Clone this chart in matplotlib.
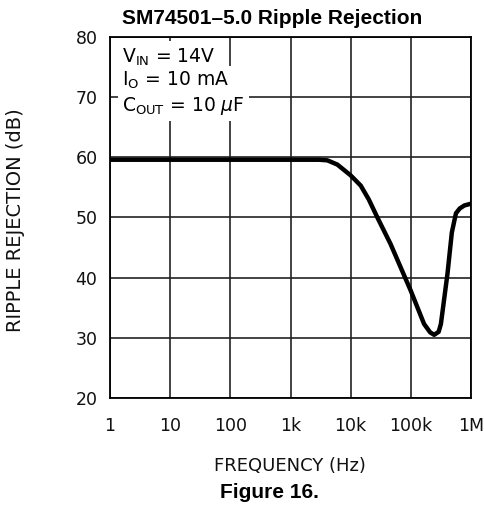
import matplotlib
matplotlib.use("Agg")
import matplotlib.pyplot as plt

freq_hz = [1, 10, 100, 1000, 3000, 4100, 6000, 10000, 14700, 20000, 27800, 46000,
           100000, 166000, 210000, 244000, 290000, 316000, 407000, 480000, 562000,
           650000, 776000, 1000000]
rejection_db = [59.6, 59.6, 59.6, 59.6, 59.6, 59.5, 58.8, 57.0, 55.3, 53.0, 50.0, 45.6,
                37.8, 32.3, 30.9, 30.5, 31.0, 32.3, 40.7, 47.5, 50.7, 51.5, 52.0, 52.3]
x_ticks = [1, 10, 100, 1000, 10000, 100000, 1000000]
x_labels = ["1", "10", "100", "1k", "10k", "100k", "1M"]
y_ticks = [20, 30, 40, 50, 60, 70, 80]

plt.rcParams['font.family'] = ['DejaVu Sans']
fig = plt.figure(figsize=(4.84, 5.13), dpi=100)
ax = fig.add_axes([110/484, 1 - 398/513, 361/484, 361/513])
ax.set_xscale('log')
ax.set_xlim(1, 1e6)
ax.set_ylim(20, 80)
ax.set_xticks(x_ticks)
ax.set_xticklabels(x_labels)
ax.minorticks_off()
ax.set_yticks(y_ticks)
ax.grid(True, color='#222222', linewidth=1.2)
ax.set_axisbelow(True)
for s in ax.spines.values():
    s.set_linewidth(1.3)
ax.tick_params(axis='both', labelsize=12.5, length=0, width=1.2, pad=9, labelcolor='#111111')
ax.tick_params(axis='x', pad=14)

ax.plot(freq_hz, rejection_db, color='black', linewidth=3.2, solid_capstyle='round', zorder=3)

fs = 13.5
ax.text(1.6, 76.6, r"$\mathregular{V_{IN}}$ = 14V", fontsize=fs, va='center', ha='left',
        bbox=dict(facecolor='white', edgecolor='none', pad=4), zorder=4)
ax.text(1.6, 72.8, r"$\mathregular{I_{O}}$ = 10 mA", fontsize=fs, va='center', ha='left',
        bbox=dict(facecolor='white', edgecolor='none', pad=3), zorder=4)
ax.text(1.6, 68.6, r"$\mathregular{C_{OUT}}$ = 10 $\mu$F", fontsize=fs, va='center', ha='left',
        bbox=dict(facecolor='white', edgecolor='none', pad=3), zorder=4)

fig.text(272/484, 1 - 19/513, "SM74501\u20135.0 Ripple Rejection", fontsize=15, fontweight='bold',
         family='Liberation Sans', ha='center', va='center')
fig.text(290/484, 1 - 466/513, "FREQUENCY (Hz)", fontsize=13, ha='center', va='center', color='#111111')
fig.text(269/484, 1 - 493/513, "Figure 16.", fontsize=15, fontweight='bold',
         family='Liberation Sans', ha='center', va='center')
fig.text(16/484, 1 - 220/513, "RIPPLE REJECTION (dB)", fontsize=14, rotation=90, ha='center', va='center',
         color='#111111')

fig.savefig("out.png", dpi=100)
